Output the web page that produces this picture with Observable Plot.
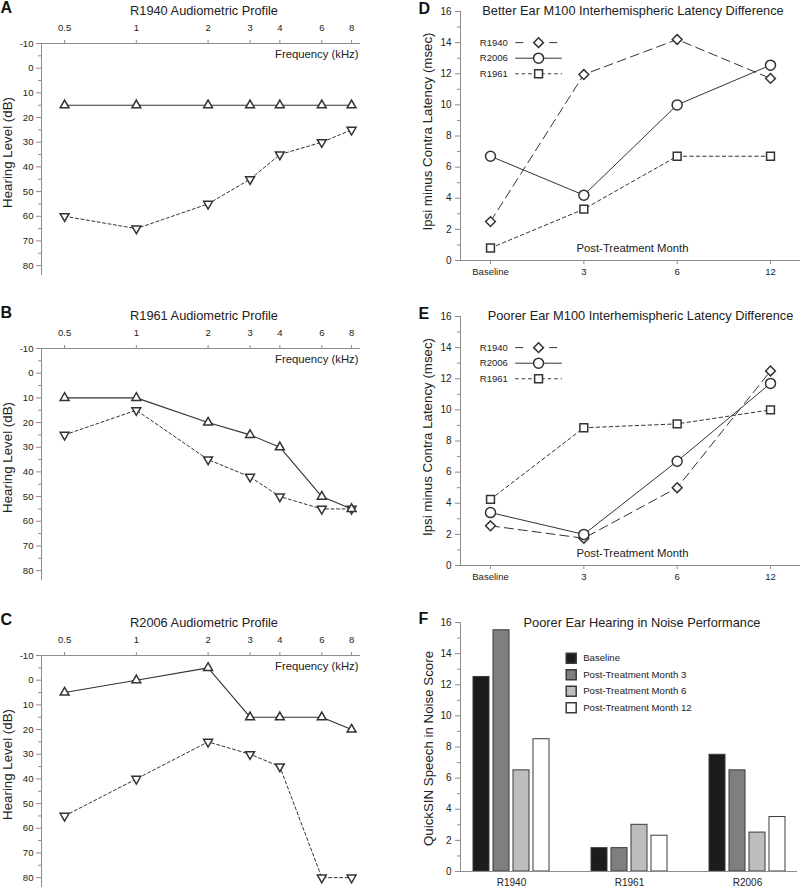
<!DOCTYPE html>
<html><head><meta charset="utf-8">
<script src="https://cdn.jsdelivr.net/npm/d3@7"></script>
<script src="https://cdn.jsdelivr.net/npm/@observablehq/plot@0.6"></script>
<style>
html,body{margin:0;padding:0;background:#fff;overflow:hidden;}
#fig{position:relative;width:800px;height:888px;overflow:hidden;background:#fff;}
.panel{position:absolute;}
</style></head><body><div id="fig"></div>
<script>
// ---------- Data ----------
// Audiograms (hearing level, dB)
const freqs = [0.5, 1, 2, 3, 4, 6, 8];
const freqLabels = ["0.5", "1", "2", "3", "4", "6", "8"];
const dbTicks = [-10, 0, 10, 20, 30, 40, 50, 60, 70, 80];
const dbMinorTicks = [-5, 5, 15, 25, 35, 45, 55, 65, 75];
const r1940Better = [15, 15, 15, 15, 15, 15, 15];
const r1940Poorer = [60, 65, 55, 45, 35, 30, 25];
const r1961Better = [10, 10, 20, 25, 30, 50, 55];
const r1961Poorer = [25, 15, 35, 42, 50, 55, 55];
const r2006Better = [5, 0, -5, 15, 15, 15, 20];
const r2006Poorer = [55, 40, 25, 30, 35, 80, 80];

// M100 interhemispheric latency differences (msec)
const months = ["Baseline", "3", "6", "12"];
const latTicks = [0, 2, 4, 6, 8, 10, 12, 14, 16];
const latMinorTicks = [1, 3, 5, 7, 9, 11, 13, 15];
const subjects = ["R1940", "R2006", "R1961"];
const betterR1940 = [2.5, 11.95, 14.2, 11.7];
const betterR2006 = [6.7, 4.2, 10.0, 12.55];
const betterR1961 = [0.8, 3.3, 6.7, 6.7];
const poorerR1940 = [2.55, 1.75, 5.0, 12.5];
const poorerR2006 = [3.4, 2.0, 6.7, 11.7];
const poorerR1961 = [4.25, 8.85, 9.1, 10.0];

// QuickSIN scores
const qsSubjects = ["R1940", "R1961", "R2006"];
const qsPeriods = ["Baseline", "Post-Treatment Month 3", "Post-Treatment Month 6", "Post-Treatment Month 12"];
const qsBaseline = [12.5, 1.5, 7.5];
const qsMonth3 = [15.5, 1.5, 6.5];
const qsMonth6 = [6.5, 3.0, 2.5];
const qsMonth12 = [8.5, 2.3, 3.5];

// ---------- Styles ----------
const FONT = '"Liberation Sans", Arial, Helvetica, sans-serif';
const AX = "#8c8c8c";
const INK = "#333";
const qsColors = ["#1c1c1c", "#7f7f7f", "#bdbdbd", "#ffffff"];
const seriesStyle = {
  R1940: {symbol: "diamond2", r: 4.4, dash: "9,5", legendDash: "8,26,8"},
  R2006: {symbol: "circle", r: 5, dash: null, legendDash: null},
  R1961: {symbol: "square2", r: 5, dash: "3.5,3", legendDash: "3.5,3"}
};
const baseStyle = {fontFamily: FONT, fontSize: "10px", color: "#222", background: "transparent", overflow: "visible"};
const T = {textAnchor: "middle", lineAnchor: "middle"};
const freqLabel = f => freqLabels[d3.minIndex(freqs, v => Math.abs(v - f))];
const plain = d => `${d}`;

const fig = document.getElementById("fig");
function place(node, left, top) {
  const d = document.createElement("div");
  d.className = "panel";
  d.style.left = left + "px";
  d.style.top = top + "px";
  d.appendChild(node);
  fig.appendChild(d);
  return node;
}

// ---------- Audiogram panels ----------
function audiogram(title, letter, better, poorer, height) {
  const rows = vals => freqs.map((f, i) => ({freq: f, level: vals[i]}));
  const b = rows(better), p = rows(poorer);
  const xLo = 0.4;
  return Plot.plot({
    width: 400, height: height, marginLeft: 41, marginRight: 40, marginTop: 43, marginBottom: height - 275,
    style: baseStyle,
    x: {type: "log", domain: [xLo, 8.72]},
    y: {domain: [-10, 84], reverse: true},
    marks: [
      Plot.ruleY([-10], {stroke: AX}),
      Plot.ruleX([xLo], {stroke: AX}),
      Plot.axisX({anchor: "top", ticks: freqs, tickFormat: () => "", tickSize: 4, stroke: AX, label: null}),
      Plot.text(freqs, {x: d => d, text: freqLabel, frameAnchor: "top", textAnchor: "middle", lineAnchor: "middle", dy: -16, fontSize: 9.5}),
      Plot.axisY({ticks: dbTicks, tickFormat: plain, tickSize: 5, tickPadding: 3, stroke: AX, fontSize: 9.6, label: null}),
      Plot.axisY({ticks: dbMinorTicks, tickSize: 3, tickFormat: () => "", stroke: AX, label: null}),
      Plot.line(p, {x: "freq", y: "level", stroke: INK, strokeWidth: 1, strokeDasharray: "3,2.5"}),
      Plot.line(b, {x: "freq", y: "level", stroke: INK, strokeWidth: 1.1}),
      Plot.dot(p, {x: "freq", y: "level", symbol: "triangle", rotate: 180, r: 3.3, fill: "white", stroke: INK}),
      Plot.dot(b, {x: "freq", y: "level", symbol: "triangle", r: 3.3, fill: "white", stroke: INK}),
      Plot.text([title], {...T, frameAnchor: "top", dx: 3, dy: -33, fontSize: 12.8}),
      Plot.text([letter], {...T, textAnchor: "start", frameAnchor: "top-left", dx: -41, dy: -36, fontSize: 16, fontWeight: "bold", fill: "#111"}),
      Plot.text(["Frequency (kHz)"], {...T, textAnchor: "end", frameAnchor: "top-right", dx: -2, dy: 11, fontSize: 11.3}),
      Plot.text(["Hearing Level (dB)"], {...T, frameAnchor: "left", dx: -34, dy: -7, rotate: -90, fontSize: 13.3})
    ]
  });
}

// ---------- Latency panels ----------
const legendRowY = [14, 13, 12];
function latency(title, letter, series, titleDx, labelDy) {
  const xLo = -0.3214, xHi = 3.3214;
  const idx = months.map((m, i) => i);
  const marks = [
    Plot.ruleY([0], {stroke: AX}),
    Plot.ruleX([xLo], {stroke: AX}),
    Plot.axisX({ticks: idx, tickFormat: i => months[Math.round(i)], tickSize: 4, tickPadding: 4, stroke: AX, fontSize: 9.5, label: null}),
    Plot.axisY({ticks: latTicks, tickFormat: plain, tickSize: 5, tickPadding: 4, stroke: AX, fontSize: 10, label: null}),
    Plot.axisY({ticks: latMinorTicks, tickSize: 3, tickFormat: () => "", stroke: AX, label: null})
  ];
  const data = subjects.map(s => series[s].map((v, i) => ({subject: s, month: i, value: v})));
  subjects.forEach((s, k) => {
    marks.push(Plot.line(data[k], {x: "month", y: "value", stroke: INK, strokeWidth: 1, strokeDasharray: seriesStyle[s].dash}));
  });
  subjects.forEach((s, k) => {
    const st = seriesStyle[s];
    marks.push(Plot.dot(data[k], {x: "month", y: "value", symbol: st.symbol, r: st.r, fill: "white", stroke: INK}));
    // legend row
    marks.push(Plot.ruleY([legendRowY[k]], {x1: 0.27, x2: 0.77, stroke: INK, strokeWidth: 1, strokeDasharray: st.legendDash}));
    marks.push(Plot.dot([legendRowY[k]], {x: 0.515, y: d => d, symbol: st.symbol, r: st.r, fill: "white", stroke: INK}));
    marks.push(Plot.text([s], {x: 0.185, y: legendRowY[k], textAnchor: "end", fontSize: 9.5}));
  });
  marks.push(
    Plot.text([title], {...T, frameAnchor: "top", dx: titleDx, dy: -1, fontSize: 12.8}),
    Plot.text([letter], {...T, textAnchor: "start", frameAnchor: "top-left", dx: -42, dy: -3, fontSize: 16, fontWeight: "bold", fill: "#111"}),
    Plot.text(["Post-Treatment Month"], {...T, frameAnchor: "bottom", dx: 2, dy: -12, fontSize: 11.3}),
    Plot.text(["Ipsi minus Contra Latency (msec)"], {...T, frameAnchor: "left", dx: -33, dy: labelDy, rotate: -90, fontSize: 13.3})
  );
  return Plot.plot({
    width: 400, height: 288, marginLeft: 60, marginRight: 0, marginTop: 11, marginBottom: 28,
    style: baseStyle,
    x: {domain: [xLo, xHi]},
    y: {domain: [0, 16]},
    marks
  });
}

// ---------- QuickSIN panel (bars + axes overlay) ----------
function quicksinBars() {
  const cols = [qsBaseline, qsMonth3, qsMonth6, qsMonth12];
  const rows = [];
  qsSubjects.forEach((g, gi) => qsPeriods.forEach((p, pi) => rows.push({subject: g, period: p, score: cols[pi][gi]})));
  return Plot.plot({
    width: 400, height: 277, marginLeft: 60, marginRight: 3, marginTop: 11, marginBottom: 17,
    style: baseStyle,
    fx: {domain: qsSubjects, paddingInner: 0.156, paddingOuter: 0, label: null},
    x: {domain: qsPeriods, paddingInner: 0.2, paddingOuter: 0.6, axis: null},
    y: {domain: [0, 16], axis: null},
    color: {domain: qsPeriods, range: qsColors},
    marks: [
      Plot.barY(rows, {fx: "subject", x: "period", y: "score", fill: "period", stroke: "#3a3a3a", strokeWidth: 1}),
      Plot.axisFx({anchor: "bottom", tickSize: 0, tickPadding: 7, fontSize: 10, label: null})
    ]
  });
}
function quicksinAxes() {
  const marks = [
    Plot.ruleY([0], {stroke: AX}),
    Plot.ruleX([0], {stroke: AX}),
    Plot.axisY({ticks: latTicks, tickFormat: plain, tickSize: 5, tickPadding: 4, stroke: AX, fontSize: 10, label: null}),
    Plot.axisY({ticks: latMinorTicks, tickSize: 3, tickFormat: () => "", stroke: AX, label: null}),
    Plot.text(["Poorer Ear Hearing in Noise Performance"], {...T, frameAnchor: "top", dx: 13, dy: 0, fontSize: 12.8}),
    Plot.text(["F"], {...T, textAnchor: "start", frameAnchor: "top-left", dx: -42, dy: -4, fontSize: 16, fontWeight: "bold", fill: "#111"}),
    Plot.text(["QuickSIN Speech in Noise Score"], {...T, frameAnchor: "left", dx: -32, dy: 1.5, rotate: -90, fontSize: 13.3})
  ];
  qsPeriods.forEach((p, i) => {
    marks.push(Plot.dot([p], {frameAnchor: "top-left", dx: 110.7, dy: 35.7 + 16.5 * i, symbol: "square", r: 5.64, fill: qsColors[i], stroke: "#3a3a3a"}));
    marks.push(Plot.text([p], {...T, textAnchor: "start", frameAnchor: "top-left", dx: 122.7, dy: 35.7 + 16.5 * i, fontSize: 9.6}));
  });
  return Plot.plot({
    width: 400, height: 277, marginLeft: 60, marginRight: 3, marginTop: 11, marginBottom: 17,
    style: baseStyle,
    x: {domain: [0, 1], axis: null},
    y: {domain: [0, 16]},
    marks
  });
}

place(audiogram("R1940 Audiometric Profile", "A", r1940Better, r1940Poorer, 288), 0, 0);
place(audiogram("R1961 Audiometric Profile", "B", r1961Better, r1961Poorer, 288), 0, 305);
place(audiogram("R2006 Audiometric Profile", "C", r2006Better, r2006Poorer, 276), 0, 612);
place(latency("Better Ear M100 Interhemispheric Latency Difference", "D",
  {R1940: betterR1940, R2006: betterR2006, R1961: betterR1961}, 2.5, -4.5), 400, 0);
place(latency("Poorer Ear M100 Interhemispheric Latency Difference", "E",
  {R1940: poorerR1940, R2006: poorerR2006, R1961: poorerR1961}, 10, -4), 400, 305);
place(quicksinBars(), 400, 611);
place(quicksinAxes(), 400, 611);
</script></body></html>
